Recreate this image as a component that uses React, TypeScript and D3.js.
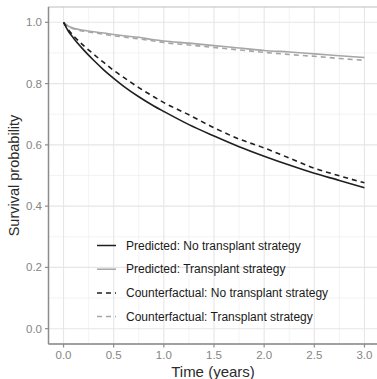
import React, { useEffect, useRef } from 'react';
import * as d3 from 'd3';

// time points (years)
const times = [0, 0.05, 0.1, 0.2, 0.3, 0.4, 0.5, 0.6, 0.75, 0.9, 1.0, 1.25, 1.5, 1.75, 2.0, 2.25, 2.5, 2.75, 3.0];

const predNoTx = [1.0, 0.97, 0.948, 0.91, 0.876, 0.845, 0.817, 0.791, 0.757, 0.727, 0.709, 0.666, 0.629, 0.594, 0.563, 0.534, 0.507, 0.484, 0.46];
const predTx = [1.0, 0.987, 0.981, 0.974, 0.969, 0.965, 0.96, 0.956, 0.951, 0.943, 0.939, 0.932, 0.924, 0.916, 0.908, 0.903, 0.897, 0.891, 0.885];
const cfNoTx = [1.0, 0.975, 0.956, 0.924, 0.896, 0.869, 0.843, 0.82, 0.787, 0.757, 0.738, 0.698, 0.656, 0.619, 0.59, 0.557, 0.524, 0.499, 0.476];
const cfTx = [1.0, 0.986, 0.979, 0.971, 0.966, 0.961, 0.956, 0.952, 0.946, 0.939, 0.934, 0.926, 0.918, 0.91, 0.902, 0.895, 0.889, 0.882, 0.876];

const seriesNames = [
    'Predicted: No transplant strategy',
    'Predicted: Transplant strategy',
    'Counterfactual: No transplant strategy',
    'Counterfactual: Transplant strategy',
];

const xTicks = [0, 0.5, 1, 1.5, 2, 2.5, 3];
const yTicks = [0, 0.2, 0.4, 0.6, 0.8, 1.0];

const App: React.FC = () => {
    const ref = useRef<SVGSVGElement>(null);

    useEffect(() => {
        const svg = d3.select(ref.current);
        svg.selectAll('*').remove();

        const left = 48.5, right = 379.5, top = 7, bottom = 344;
        // ggplot style 5% expansion
        const x = d3.scaleLinear().domain([-0.15, 3.15]).range([left, right]);
        const y = d3.scaleLinear().domain([-0.05, 1.05]).range([bottom, top]);

        const font = 'Liberation Sans, Arial, sans-serif';

        svg.append('rect')
            .attr('x', left).attr('y', top)
            .attr('width', right - left).attr('height', bottom - top)
            .attr('fill', 'white');

        // minor grid
        const xMinor = xTicks.slice(0, -1).map(d => d + 0.25);
        const yMinor = yTicks.slice(0, -1).map(d => d + 0.1);
        svg.append('g').selectAll('line').data(xMinor).enter().append('line')
            .attr('x1', d => x(d)).attr('x2', d => x(d))
            .attr('y1', top).attr('y2', bottom)
            .attr('stroke', '#f0f0f0').attr('stroke-width', 0.8);
        svg.append('g').selectAll('line').data(yMinor).enter().append('line')
            .attr('x1', left).attr('x2', right)
            .attr('y1', d => y(d)).attr('y2', d => y(d))
            .attr('stroke', '#f0f0f0').attr('stroke-width', 0.8);

        // major grid
        svg.append('g').selectAll('line').data(xTicks).enter().append('line')
            .attr('x1', d => x(d)).attr('x2', d => x(d))
            .attr('y1', top).attr('y2', bottom)
            .attr('stroke', '#e6e6e6').attr('stroke-width', 1.1);
        svg.append('g').selectAll('line').data(yTicks).enter().append('line')
            .attr('x1', left).attr('x2', right)
            .attr('y1', d => y(d)).attr('y2', d => y(d))
            .attr('stroke', '#e6e6e6').attr('stroke-width', 1.1);

        // panel border
        svg.append('rect')
            .attr('x', left).attr('y', top)
            .attr('width', right - left).attr('height', bottom - top)
            .attr('fill', 'none').attr('stroke', '#bdbdbd').attr('stroke-width', 1);

        // axis lines
        svg.append('line')
            .attr('x1', left).attr('x2', left).attr('y1', top).attr('y2', bottom)
            .attr('stroke', '#8c8c8c').attr('stroke-width', 1.5);
        svg.append('line')
            .attr('x1', left).attr('x2', right).attr('y1', bottom).attr('y2', bottom)
            .attr('stroke', '#8c8c8c').attr('stroke-width', 1.5);

        // ticks + labels
        svg.append('g').selectAll('line').data(yTicks).enter().append('line')
            .attr('x1', left - 3.5).attr('x2', left)
            .attr('y1', d => y(d)).attr('y2', d => y(d))
            .attr('stroke', '#8c8c8c').attr('stroke-width', 1.2);
        svg.append('g').selectAll('text').data(yTicks).enter().append('text')
            .attr('x', left - 6.5).attr('y', d => y(d) + 4)
            .attr('text-anchor', 'end')
            .attr('font-family', font).attr('font-size', 11.5)
            .attr('fill', '#858585')
            .text(d => d3.format('.1f')(d));

        svg.append('g').selectAll('line').data(xTicks).enter().append('line')
            .attr('x1', d => x(d)).attr('x2', d => x(d))
            .attr('y1', bottom).attr('y2', bottom + 3.5)
            .attr('stroke', '#8c8c8c').attr('stroke-width', 1.2);
        svg.append('g').selectAll('text').data(xTicks).enter().append('text')
            .attr('x', d => x(d)).attr('y', 359)
            .attr('text-anchor', 'middle')
            .attr('font-family', font).attr('font-size', 11.5)
            .attr('fill', '#858585')
            .text(d => d3.format('.1f')(d));

        // axis titles
        svg.append('text')
            .attr('x', (left + right) / 2 - 1).attr('y', 377)
            .attr('text-anchor', 'middle')
            .attr('font-family', font).attr('font-size', 15)
            .attr('fill', '#2b2b2b')
            .text('Time (years)');
        svg.append('text')
            .attr('transform', `translate(19, ${(top + bottom) / 2}) rotate(-90)`)
            .attr('text-anchor', 'middle')
            .attr('font-family', font).attr('font-size', 14.5)
            .attr('fill', '#2b2b2b')
            .text('Survival probability');

        // curves
        const styles = [
            { data: predTx, color: '#a6a6a6', dash: null },
            { data: cfTx, color: '#a6a6a6', dash: '5,4' },
            { data: predNoTx, color: '#1f1f1f', dash: null },
            { data: cfNoTx, color: '#1f1f1f', dash: '5,4' },
        ];
        const line = d3.line<number>()
            .x((_, i) => x(times[i]))
            .y(d => y(d))
            .curve(d3.curveMonotoneX);
        styles.forEach(s => {
            svg.append('path')
                .attr('d', line(s.data))
                .attr('fill', 'none')
                .attr('stroke', s.color)
                .attr('stroke-width', 1.6)
                .attr('stroke-dasharray', s.dash);
        });

        // legend
        const keyColors = ['#1f1f1f', '#a6a6a6', '#1f1f1f', '#a6a6a6'];
        const keyDash = [null, null, '5,4', '5,4'];
        const legend = svg.append('g');
        seriesNames.forEach((name, i) => {
            const ly = 245.5 + i * 23.7;
            legend.append('line')
                .attr('x1', 97).attr('x2', 116)
                .attr('y1', ly).attr('y2', ly)
                .attr('stroke', keyColors[i])
                .attr('stroke-width', 1.5)
                .attr('stroke-dasharray', keyDash[i]);
            legend.append('text')
                .attr('x', 126).attr('y', ly + 4)
                .attr('font-family', font).attr('font-size', 12)
                .attr('fill', '#1a1a1a')
                .text(name);
        });
    }, []);

    return (
        <svg ref={ref} width={377} height={379}
            style={{ position: 'absolute', left: 0, top: 0, background: 'white' }} />
    );
};

export default App;
